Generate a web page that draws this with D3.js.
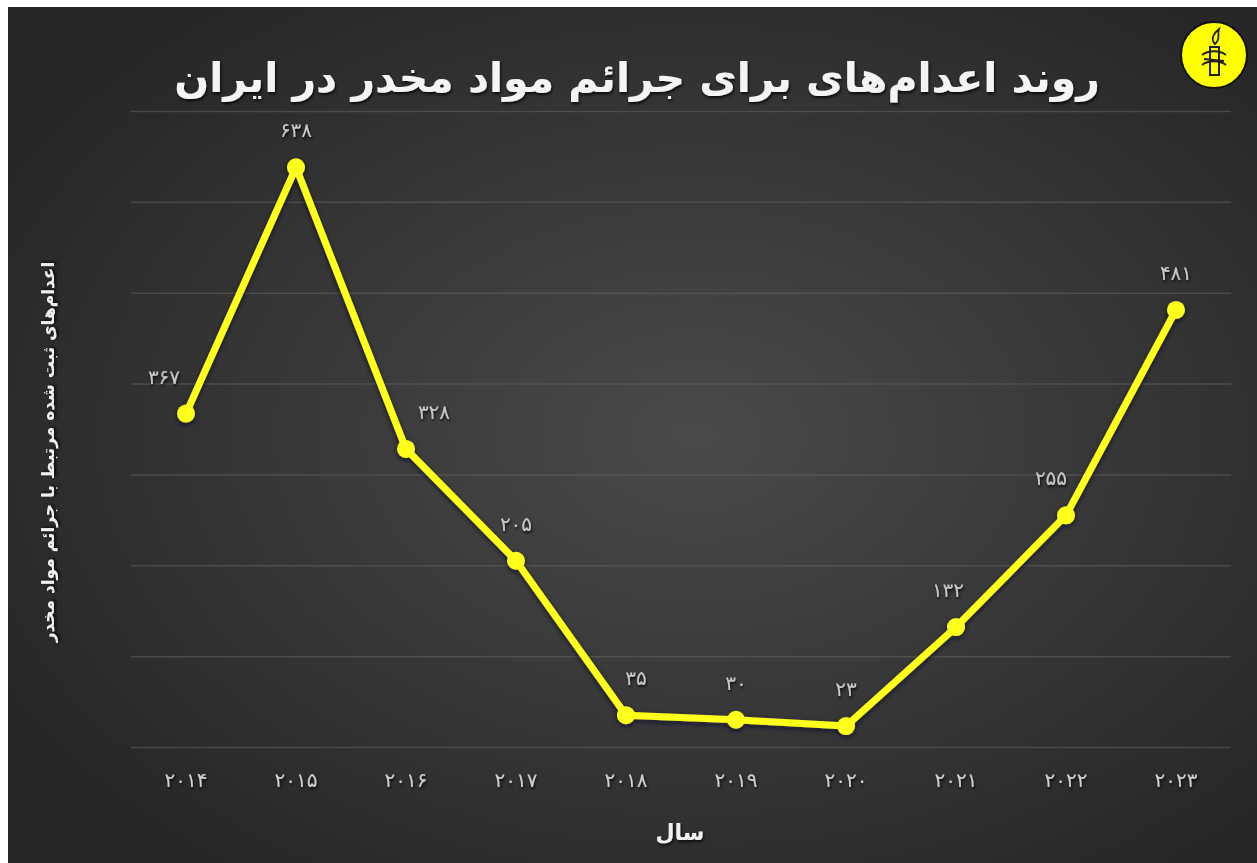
<!DOCTYPE html>
<html>
<head>
<meta charset="utf-8">
<script src="https://cdn.jsdelivr.net/npm/d3@7"></script>
<style>
  html, body { margin: 0; padding: 0; background: #fff; }
  svg { display: block; }
  text { font-family: 'DejaVu Sans', 'Noto Sans', sans-serif; }
</style>
</head>
<body>
<div class="vis"></div>
<script>
const years = [2014, 2015, 2016, 2017, 2018, 2019, 2020, 2021, 2022, 2023]
const executions = [367, 638, 328, 205, 35, 30, 23, 132, 255, 481]
const gridValues = [0, 100, 200, 300, 400, 500, 600, 700]
// label nudges, left/right of the point
const labelDx = [-22, 0, 28, 0, 10, 0, 0, -8, -15, 0]

const titleText = 'روند اعدام‌های برای جرائم مواد مخدر در ایران'
const yTitle = 'اعدام‌های ثبت شده مرتبط با جرائم مواد مخدر'
const xTitle = 'سال'

const W = 1257
const H = 863
const faDigits = '۰۱۲۳۴۵۶۷۸۹'
const fa = n => String(n).replace(/\d/g, d => faDigits[+d])

const svg = d3.select('.vis').append('svg').attr('width', W).attr('height', H)

const defs = svg.append('defs')
const grad = defs.append('radialGradient')
  .attr('id', 'bg').attr('cx', '55%').attr('cy', '50%').attr('r', '62%')
grad.append('stop').attr('offset', '0%').attr('stop-color', '#4a4a4a')
grad.append('stop').attr('offset', '100%').attr('stop-color', '#272727')

const shadow = defs.append('filter').attr('id', 'shadow')
  .attr('x', '-10%').attr('y', '-10%').attr('width', '120%').attr('height', '120%')
shadow.append('feDropShadow')
  .attr('dx', 0).attr('dy', 2).attr('stdDeviation', 2.5)
  .attr('flood-color', '#0a0a30').attr('flood-opacity', 0.8)

const txtShadow = defs.append('filter').attr('id', 'tshadow')
txtShadow.append('feDropShadow')
  .attr('dx', 1).attr('dy', 2).attr('stdDeviation', 1.5)
  .attr('flood-color', '#000').attr('flood-opacity', 0.8)

svg.append('rect')
  .attr('x', 8).attr('y', 7)
  .attr('width', W - 8).attr('height', H - 7)
  .attr('fill', 'url(#bg)')

// scales
const x = d3.scaleBand()
  .domain(years)
  .range([131, 1231])

const y = d3.scaleLinear()
  .domain([0, 700])
  .range([747, 111])

const cx = d => x(d) + x.bandwidth() / 2

// gridlines
svg.append('g')
  .attr('class', 'grid')
  .attr('transform', 'translate(131,0)')
  .call(d3.axisRight(y).tickValues(gridValues).tickSize(1100).tickFormat(''))
  .call(g => g.select('.domain').remove())
  .call(g => g.selectAll('.tick line')
    .attr('stroke', '#666')
    .attr('stroke-opacity', 0.5)
    .attr('stroke-width', 1.5))

// x axis
svg.append('g')
  .attr('class', 'x axis')
  .attr('transform', 'translate(0,766)')
  .call(d3.axisBottom(x).tickSize(0).tickFormat(fa))
  .call(g => g.select('.domain').remove())
  .call(g => g.selectAll('.tick text')
    .attr('fill', '#cfcfcf')
    .attr('font-size', 20)
    .attr('dy', '0.9em')
    .attr('filter', 'url(#tshadow)'))

// line
const line = d3.line()
  .x((d, i) => cx(years[i]))
  .y(d => y(d))

const series = svg.append('g').attr('filter', 'url(#shadow)')

series.append('path')
  .datum(executions)
  .attr('d', line)
  .attr('fill', 'none')
  .attr('stroke', '#ffff1a')
  .attr('stroke-width', 7)
  .attr('stroke-linejoin', 'round')

series.selectAll('circle')
  .data(executions)
  .join('circle')
  .attr('cx', (d, i) => cx(years[i]))
  .attr('cy', d => y(d))
  .attr('r', 9)
  .attr('fill', '#ffff1a')

// data labels
svg.append('g')
  .selectAll('text')
  .data(executions)
  .join('text')
  .attr('x', (d, i) => cx(years[i]) + labelDx[i])
  .attr('y', d => y(d) - 30)
  .attr('text-anchor', 'middle')
  .attr('fill', '#c8c8c8')
  .attr('font-size', 20)
  .attr('filter', 'url(#tshadow)')
  .text(fa)

// titles
svg.append('text')
  .attr('x', 637).attr('y', 92)
  .attr('text-anchor', 'middle')
  .attr('fill', '#f4f4f4')
  .attr('font-size', 41)
  .attr('font-weight', 'bold')
  .attr('direction', 'rtl')
  .attr('filter', 'url(#tshadow)')
  .text(titleText)

svg.append('text')
  .attr('transform', 'translate(54,452) rotate(-90)')
  .attr('text-anchor', 'middle')
  .attr('fill', '#f0f0f0')
  .attr('font-size', 17)
  .attr('font-weight', 'bold')
  .attr('direction', 'rtl')
  .attr('filter', 'url(#tshadow)')
  .text(yTitle)

svg.append('text')
  .attr('x', 680).attr('y', 840)
  .attr('text-anchor', 'middle')
  .attr('fill', '#f0f0f0')
  .attr('font-size', 22)
  .attr('font-weight', 'bold')
  .attr('direction', 'rtl')
  .attr('filter', 'url(#tshadow)')
  .text(xTitle)

// logo
const logo = svg.append('g').attr('transform', 'translate(1214,55)')
logo.append('circle').attr('r', 33).attr('fill', '#ffff00')
  .attr('stroke', '#111').attr('stroke-width', 2)
logo.append('rect').attr('x', -4).attr('y', -8).attr('width', 9).attr('height', 28)
  .attr('fill', 'none').attr('stroke', '#222').attr('stroke-width', 2)
logo.append('path').attr('d', 'M1,-11 C-4,-16 0,-22 5,-26 C3,-20 7,-16 1,-11Z')
  .attr('fill', 'none').attr('stroke', '#222').attr('stroke-width', 1.8)
logo.append('path').attr('d', 'M-12,0 C-6,-5 6,-5 12,0 M-12,10 C-6,5 6,5 12,10 M-10,4 L10,6')
  .attr('fill', 'none').attr('stroke', '#222').attr('stroke-width', 1.8)
</script>
</body>
</html>
